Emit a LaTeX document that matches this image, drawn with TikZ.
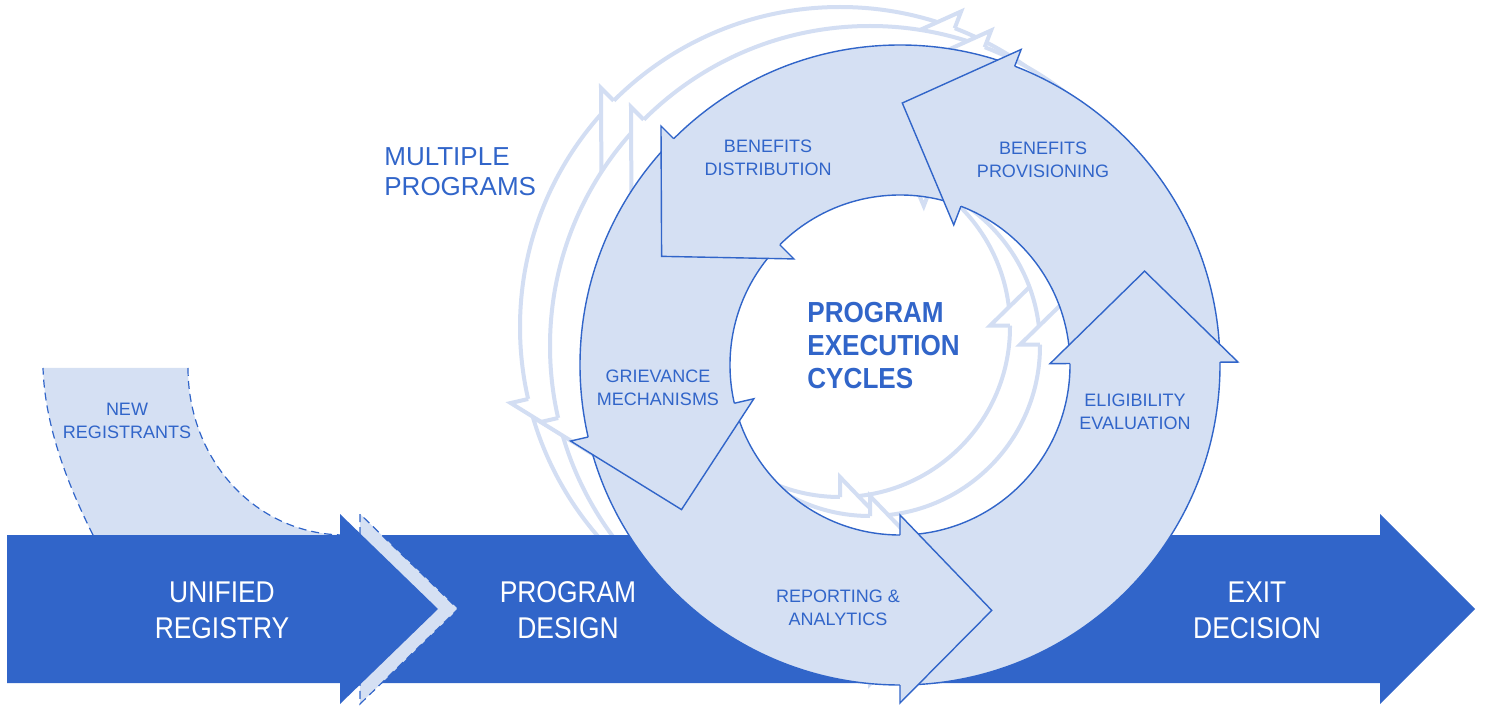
\documentclass[tikz,border=0pt]{standalone}
\usepackage{fontspec}
\setmainfont{Liberation Sans}
\newfontfamily\barfont{Liberation Sans}[FakeStretch=0.88]
\newfontfamily\cyclefont{Liberation Sans}[FakeStretch=0.9]
\usetikzlibrary{shapes}
\definecolor{barblue}{HTML}{3165C9}
\definecolor{ringfill}{HTML}{D5E0F3}
\definecolor{ghostline}{HTML}{D3DEF3}
\tikzstyle{bar}=[fill=barblue]
\tikzstyle{ring}=[fill=ringfill,draw=barblue,line width=0.7pt]
\tikzstyle{ghost}=[fill=white,draw=ghostline,line width=2pt]
\tikzstyle{inflow}=[fill=ringfill,draw=barblue,dash pattern=on 4pt off 2.5pt,line width=0.6pt]
\tikzstyle{lbl}=[text=barblue,align=center,font=\fontsize{9}{11.5}\selectfont]
\tikzstyle{barlbl}=[text=white,align=center,font=\barfont\fontsize{15}{18}\selectfont]
\newcommand{\cyclering}[2]{%
  \begin{scope}[shift={#1}]
    \filldraw[#2,even odd rule] (0,0) circle (320) (0,0) circle (170);
    \foreach \a in {0.5,69,135,193,270}
      \filldraw[#2] (\a:320) -- (\a:338) -- (\a+20.5:262) -- (\a:150) -- (\a:170);
  \end{scope}}

\begin{document}
\begin{tikzpicture}[x=0.5pt,y=0.5pt]
\useasboundingbox (0,0) rectangle (1485,719);

\cyclering{(840,392)}{ghost}
\cyclering{(870,373)}{ghost}

\fill[ringfill] (43,351) -- (188,351) .. controls (188,259) and (256,184) .. (345,184)
  -- (93,184) .. controls (70,230) and (45,290) .. (43,351);
\draw[inflow,fill=none] (188,351) .. controls (188,259) and (256,184) .. (345,184);
\draw[inflow,fill=none] (93,184) .. controls (70,230) and (45,290) .. (43,351);

\fill[bar] (340,36) -- (1380,36) -- (1380,15) -- (1475,110) -- (1380,205) -- (1380,184) -- (340,184) -- cycle;
\filldraw[inflow] (360,184) -- (360,205) -- (458,110) -- (360,15) -- (360,36);
\fill[bar] (7,36) -- (340,36) -- (340,15) -- (438,110) -- (340,205) -- (340,184) -- (7,184) -- cycle;

\cyclering{(900,354)}{ring}

\node[barlbl] (unified) at (222,109) {UNIFIED\\REGISTRY};
\node[barlbl] (design) at (568,109) {PROGRAM\\DESIGN};
\node[barlbl] (exit) at (1257,109) {EXIT\\DECISION};

\node[lbl] (newreg) at (127,298) {NEW\\REGISTRANTS};
\node[lbl] (dist) at (768,561) {BENEFITS\\DISTRIBUTION};
\node[lbl] (prov) at (1043,559) {BENEFITS\\PROVISIONING};
\node[lbl] (griev) at (658,331) {GRIEVANCE\\MECHANISMS};
\node[lbl] (elig) at (1135,307) {ELIGIBILITY\\EVALUATION};
\node[lbl] (report) at (838,111) {REPORTING \&\\ANALYTICS};

\node[text=barblue,align=left,anchor=west,inner sep=0pt,font=\cyclefont\bfseries\fontsize{14.5}{16.5}\selectfont] (cycles) at (807,373) {PROGRAM\\EXECUTION\\CYCLES};
\node[text=barblue,align=left,anchor=west,inner sep=0pt,font=\fontsize{13}{15}\selectfont] (multi) at (384,547) {MULTIPLE\\PROGRAMS};
\end{tikzpicture}
\end{document}
